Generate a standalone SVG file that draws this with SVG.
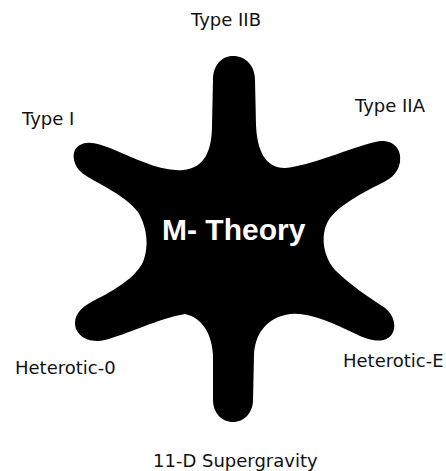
<svg xmlns="http://www.w3.org/2000/svg" width="446" height="471" viewBox="0 0 446 471">
<style>
.lbl{font-family:"DejaVu Sans",Verdana,sans-serif;font-size:18px;fill:#111}
.core{font-family:"Liberation Sans",Arial,sans-serif;font-size:30px;font-weight:bold;fill:#fff}
</style>
<rect width="446" height="471" fill="#fff"/>
<g id="m-theory">
<path fill="#000" d="M233,56 C246,56 255,66 255,80 L256,125 C257,150 265,168 285,168 C310,166 350,148 375,142 C392,138 402,148 400,162 C398,175 388,180 380,184 C360,194 340,205 330,218 C320,232 322,255 335,270 C350,285 370,298 382,306 C396,314 398,332 388,338 C380,343 368,340 356,334 C330,322 305,310 285,315 C265,320 255,335 254,355 L253,400 C253,413 244,422 233,422 C222,422 213,413 213,400 L213,355 C212,335 203,318 185,314 C160,318 125,335 105,340 C88,344 75,335 75,323 C75,312 85,305 95,300 C115,290 135,278 143,262 C150,245 146,225 138,212 C125,195 100,185 85,175 C72,167 70,150 80,145 C88,140 100,144 110,148 C135,158 160,172 183,170 C205,168 212,150 212,125 L213,80 C213,66 221,56 233,56 Z"/>
<text class="core" x="162" y="240">M- Theory</text>
</g>
<g id="type-iib"><text class="lbl" x="191" y="26">Type IIB</text></g>
<g id="type-i"><text class="lbl" x="22" y="125">Type I</text></g>
<g id="type-iia"><text class="lbl" x="355" y="112">Type IIA</text></g>
<g id="heterotic-0"><text class="lbl" x="15" y="374">Heterotic-0</text></g>
<g id="heterotic-e"><text class="lbl" x="343" y="367">Heterotic-E</text></g>
<g id="supergravity"><text class="lbl" x="153" y="467">11-D Supergravity</text></g>
<g id="connectors"/>
</svg>
